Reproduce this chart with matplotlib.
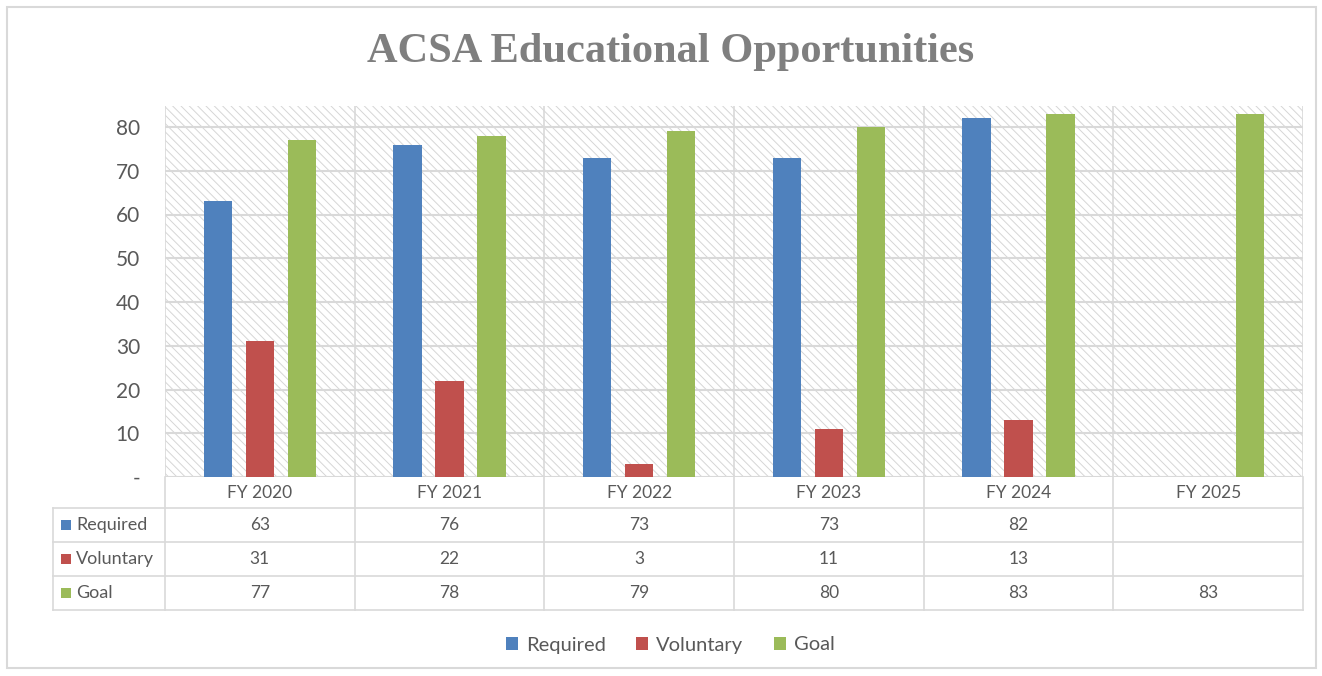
import numpy as np
import matplotlib.pyplot as plt
import matplotlib.transforms as mtransforms
from matplotlib.patches import Rectangle

plt.rcParams['font.family'] = ['Lato', 'DejaVu Sans']
plt.rcParams['hatch.linewidth'] = 0.7

years = ['FY 2020', 'FY 2021', 'FY 2022', 'FY 2023', 'FY 2024', 'FY 2025']
required = [63, 76, 73, 73, 82, None]
voluntary = [31, 22, 3, 11, 13, None]
goal = [77, 78, 79, 80, 83, 83]

series = [('Required', required, '#4f81bd'),
          ('Voluntary', voluntary, '#c0504d'),
          ('Goal', goal, '#9bbb59')]

text_color = '#595959'
line_color = '#d9d9d9'

W, H = 1322, 676
fig = plt.figure(figsize=(W / 100, H / 100), dpi=100)
fig.patch.set_facecolor('white')

def fy(py):
    return 1 - py / H

# outer chart border
fig.add_artist(Rectangle((7 / W, fy(668)), 1309 / W, 661 / H, transform=fig.transFigure,
                         fill=False, edgecolor=line_color, lw=1.5))

fig.text(0.507, fy(52), 'ACSA Educational Opportunities', ha='center', va='center',
         fontsize=30.5, fontweight='bold', color='#7f7f7f',
         family=['Liberation Serif', 'DejaVu Serif'])

ax = fig.add_axes([165 / W, fy(477), (1303 - 165) / W, (477 - 106) / H])
ax.set_xlim(-0.5, len(years) - 0.5)
ax.set_ylim(0, 84.8)

# hatched plot background
ax.add_patch(Rectangle((0, 0), 1, 1, transform=ax.transAxes, facecolor='white',
                       edgecolor='#d6d6d6', hatch='\\\\\\\\', lw=0, zorder=0))

for y in range(10, 90, 10):
    ax.axhline(y, color=line_color, lw=1.5, zorder=1)
for i in range(len(years) + 1):
    ax.axvline(i - 0.5, color=line_color, lw=1.2, zorder=1)

x = np.arange(len(years))
bar_w = 0.15
step = 0.222
handles = []
for k, (name, vals, color) in enumerate(series):
    xs = [xi + (k - 1) * step for xi, v in zip(x, vals) if v is not None]
    vs = [v for v in vals if v is not None]
    b = ax.bar(xs, vs, width=bar_w, color=color, zorder=3, label=name)
    handles.append(b)

ax.set_yticks(range(0, 90, 10))
ax.set_yticklabels(['-'] + [str(v) for v in range(10, 90, 10)])
ax.tick_params(axis='y', length=0, pad=18, labelsize=15, labelcolor=text_color)
ax.tick_params(axis='x', length=0, labelbottom=False)
for s in ax.spines.values():
    s.set_visible(False)
ax.axhline(0, color=line_color, lw=1.5, zorder=2)

# data table under the bars
tr = mtransforms.blended_transform_factory(ax.transData, fig.transFigure)
rows = [477, 508, 542, 576, 610]
left = -0.5 - (165 - 53) / ((1303 - 165) / len(years))

for i in range(len(years) + 1):
    fig.add_artist(plt.Line2D([i - 0.5, i - 0.5], [fy(477), fy(610)], transform=tr,
                              color=line_color, lw=1.2))
fig.add_artist(plt.Line2D([left, left], [fy(508), fy(610)], transform=tr,
                          color=line_color, lw=1.2))
for r in rows[1:]:
    fig.add_artist(plt.Line2D([left, len(years) - 0.5], [fy(r), fy(r)], transform=tr,
                              color=line_color, lw=1.2))

for i, yr in enumerate(years):
    fig.text(i, fy((rows[0] + rows[1]) / 2), yr, transform=tr, ha='center', va='center',
             fontsize=12.5, color=text_color)

for k, (name, vals, color) in enumerate(series):
    ymid = (rows[k + 1] + rows[k + 2]) / 2
    fig.add_artist(Rectangle((61 / W, fy(ymid + 5)), 10 / W, 10 / H,
                             transform=fig.transFigure, color=color, lw=0))
    fig.text(76 / W, fy(ymid), name, ha='left', va='center', fontsize=13, color=text_color)
    for i, v in enumerate(vals):
        if v is not None:
            fig.text(i, fy(ymid), str(v), transform=tr, ha='center', va='center',
                     fontsize=12.5, color=text_color)

fig.legend(handles=handles, loc='center', bbox_to_anchor=(0.507, fy(645)), ncol=3,
           frameon=False, fontsize=14.5, handlelength=0.6, handleheight=0.6,
           handletextpad=0.4, columnspacing=1.5, labelcolor=text_color)

fig.savefig('out.png', dpi=100, facecolor='white')
